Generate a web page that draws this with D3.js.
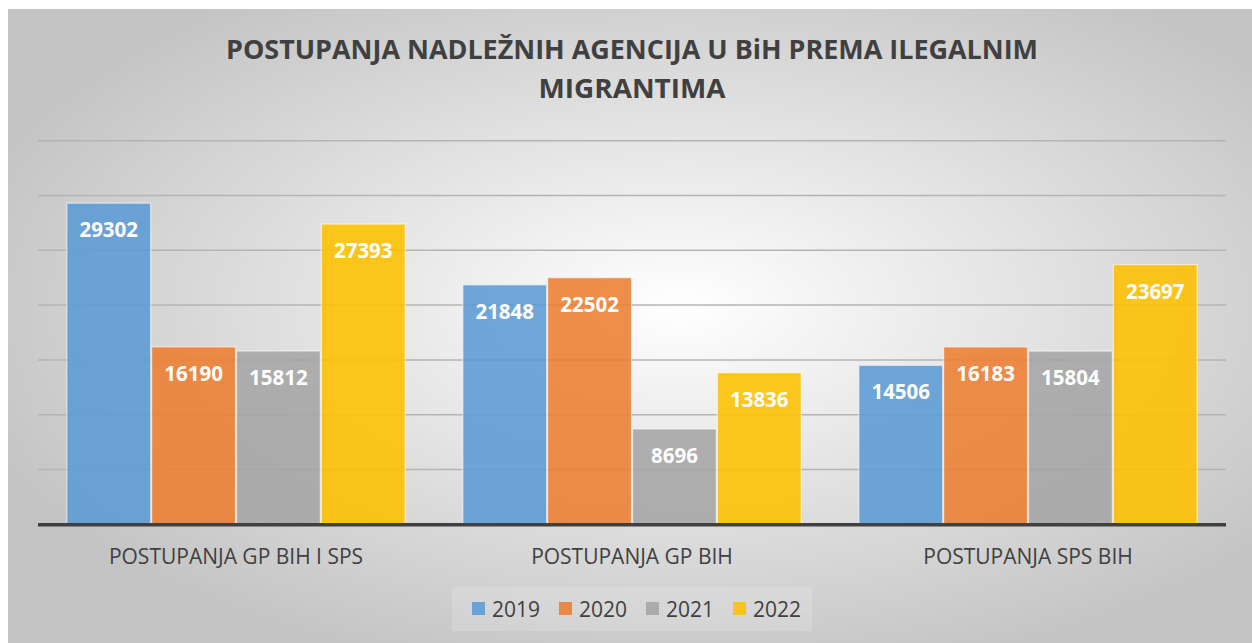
<!DOCTYPE html>
<html>
<head>
<meta charset="utf-8">
<script src="https://d3js.org/d3.v7.min.js"></script>
<style>
  body { margin: 0; background: #fff; }
  svg text { font-family: "Open Sans", "Liberation Sans", sans-serif; }
</style>
</head>
<body>
<div id="chart"></div>
<script>
// data
const categories = ["POSTUPANJA GP BIH I SPS", "POSTUPANJA GP BIH", "POSTUPANJA SPS BIH"];
const years = ["2019", "2020", "2021", "2022"];
const v2019 = [29302, 21848, 14506];
const v2020 = [16190, 22502, 16183];
const v2021 = [15812, 8696, 15804];
const v2022 = [27393, 13836, 23697];
const yTicks = [0, 5000, 10000, 15000, 20000, 25000, 30000, 35000];
const colors = ["#5b9bd5", "#ed7d31", "#a5a5a5", "#ffc000"];

const series = [v2019, v2020, v2021, v2022];
const data = categories.map((c, i) => ({
  cat: c,
  vals: years.map((y, j) => ({ key: y, value: series[j][i] }))
}));

const W = 1252, H = 643;
const plot = { left: 38, right: 1226, top: 140.7, bottom: 524.3 };

const svg = d3.select("#chart").append("svg")
  .attr("width", W).attr("height", H);

// background gradient
const defs = svg.append("defs");
const grad = defs.append("radialGradient")
  .attr("id", "bg")
  .attr("cx", "0.54").attr("cy", "0.47").attr("r", "0.6");
grad.append("stop").attr("offset", "0").attr("stop-color", "#ffffff");
grad.append("stop").attr("offset", "1").attr("stop-color", "#c4c4c4");

svg.append("rect")
  .attr("x", 8).attr("y", 9).attr("width", W - 8).attr("height", H - 9)
  .attr("fill", "url(#bg)");

// title
svg.append("text")
  .attr("x", 632).attr("y", 59)
  .attr("text-anchor", "middle")
  .attr("font-size", 26).attr("font-weight", "bold")
  .attr("fill", "#404040")
  .attr("textLength", 812).attr("lengthAdjust", "spacingAndGlyphs")
  .text("POSTUPANJA NADLEŽNIH AGENCIJA U BiH PREMA ILEGALNIM");
svg.append("text")
  .attr("x", 632).attr("y", 98)
  .attr("text-anchor", "middle")
  .attr("font-size", 26).attr("font-weight", "bold")
  .attr("fill", "#404040")
  .attr("textLength", 187).attr("lengthAdjust", "spacingAndGlyphs")
  .text("MIGRANTIMA");

// scales
const x = d3.scaleBand()
  .domain(categories)
  .range([plot.left, plot.right])
  .paddingInner(0).paddingOuter(0);

const y = d3.scaleLinear()
  .domain([0, 35000])
  .range([plot.bottom, plot.top]);

const inner = 0.143; // gap share of each band
const xSub = d3.scaleBand()
  .domain(years)
  .range([x.bandwidth() * inner / 2, x.bandwidth() * (1 - inner / 2)])
  .padding(0);

// gridlines
svg.append("g")
  .selectAll("line")
  .data(yTicks.slice(1))
  .join("line")
  .attr("x1", plot.left).attr("x2", plot.right)
  .attr("y1", d => y(d)).attr("y2", d => y(d))
  .attr("stroke", "#b4b4b4").attr("stroke-width", 1.5);

// bars
const groups = svg.append("g")
  .selectAll("g")
  .data(data)
  .join("g")
  .attr("transform", d => `translate(${x(d.cat)},0)`);

groups.selectAll("rect")
  .data(d => d.vals)
  .join("rect")
  .attr("x", d => xSub(d.key) + 0.5)
  .attr("y", d => y(d.value))
  .attr("width", xSub.bandwidth() - 1)
  .attr("height", d => y(0) - y(d.value))
  .attr("fill", (d, i) => colors[i])
  .attr("fill-opacity", 0.88)
  .attr("stroke", "#ffffff").attr("stroke-opacity", 0.6).attr("stroke-width", 1.2);

groups.selectAll("text")
  .data(d => d.vals)
  .join("text")
  .attr("x", d => xSub(d.key) + xSub.bandwidth() / 2)
  .attr("y", d => y(d.value) + 34)
  .attr("text-anchor", "middle")
  .attr("font-size", 20.5).attr("font-weight", "bold")
  .attr("fill", "#ffffff")
  .text(d => d.value);

// baseline
svg.append("line")
  .attr("x1", plot.left).attr("x2", plot.right)
  .attr("y1", y(0) + 0.5).attr("y2", y(0) + 0.5)
  .attr("stroke", "#404040").attr("stroke-width", 3.5);

// category labels
svg.append("g")
  .selectAll("text")
  .data(categories)
  .join("text")
  .attr("x", d => x(d) + x.bandwidth() / 2)
  .attr("y", 564)
  .attr("text-anchor", "middle")
  .attr("font-size", 21)
  .attr("fill", "#404040")
  .text(d => d);

// legend
svg.append("rect")
  .attr("x", 452).attr("y", 587).attr("width", 360).attr("height", 44)
  .attr("fill", "#ffffff").attr("fill-opacity", 0.15);

const legend = svg.append("g")
  .selectAll("g")
  .data(years)
  .join("g")
  .attr("transform", (d, i) => `translate(${472 + i * 87},0)`);

legend.append("rect")
  .attr("x", 0).attr("y", 602).attr("width", 13).attr("height", 13)
  .attr("fill", (d, i) => colors[i]).attr("fill-opacity", 0.88);

legend.append("text")
  .attr("x", 20).attr("y", 617)
  .attr("font-size", 21)
  .attr("fill", "#404040")
  .text(d => d);
</script>
</body>
</html>
